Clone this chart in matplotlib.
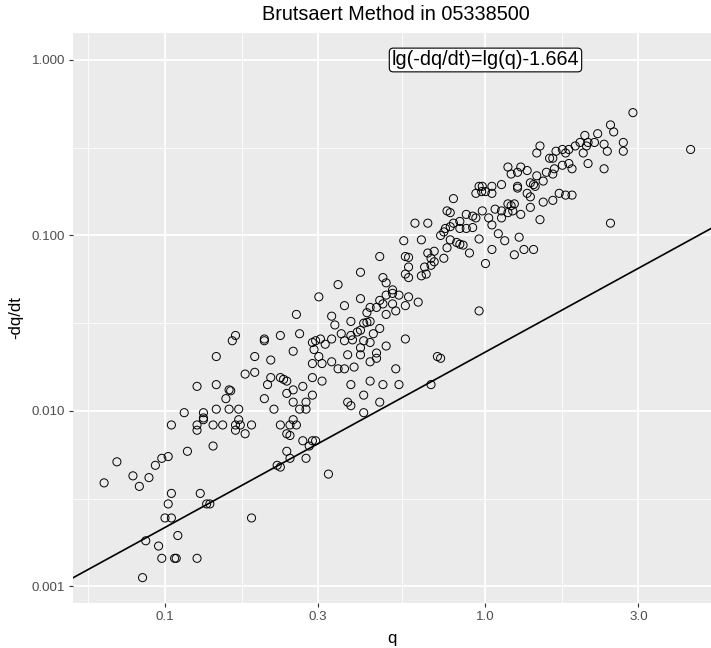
import numpy as np
import matplotlib.pyplot as plt

# recession points, stored as lg values (Brutsaert plot works in log space)
lg_q = [
    -1.19, -1.15, -1.10, -1.08, -1.05, -1.03, -1.01, -0.99, -0.93, -0.85,
    -0.98, -0.89, -0.99, -0.87, -0.86, -1.00, -0.98, -1.06, -0.96, -1.02,
    -1.01, -0.97, -0.965, -0.90, -1.07,
    -0.84, -0.90, -0.84, -0.80, -0.795, -0.81, -0.94, -0.88, -0.84, -0.80,
    -0.88, -0.88, -0.98, -0.90, -0.90, -0.85, -0.82,
    -0.78, -0.79, -0.69, -0.69, -0.72, -0.67, -0.75, -0.72, -0.67, -0.68,
    -0.69, -0.77, -0.66, -0.78, -0.78, -0.77, -0.765, -0.73, -0.75, -0.73,
    -0.65, -0.64,
    -0.46, -0.52, -0.39, -0.44, -0.59, -0.48, -0.47, -0.42, -0.37, -0.36,
    -0.34, -0.33, -0.38, -0.37, -0.36, -0.39, -0.40, -0.35, -0.64, -0.58,
    -0.515, -0.53, -0.54, -0.48, -0.50, -0.45, -0.44, -0.42, -0.415, -0.38,
    -0.36, -0.39, -0.60, -0.535, -0.52, -0.43, -0.39, -0.34, -0.34, -0.36,
    -0.54, -0.51, -0.48, -0.46, -0.44, -0.41,
    -0.64, -0.63, -0.62, -0.54, -0.51, -0.60, -0.57, -0.62, -0.54, -0.42,
    -0.36, -0.60, -0.56, -0.58, -0.56, -0.43, -0.42, -0.38, -0.33, -0.38,
    -0.64, -0.61, -0.59, -0.60, -0.62, -0.61, -0.57, -0.54, -0.53, -0.55,
    -0.62, -0.61, -0.56, -0.49,
    -0.33, -0.39, -0.32, -0.31, -0.24, -0.32, -0.31, -0.29, -0.29, -0.27,
    -0.24, -0.21, -0.25, -0.29, -0.28, -0.31, -0.33, -0.31, -0.25, -0.28,
    -0.15, -0.14, -0.32, -0.27, -0.17, -0.02,
    0.17, 0.16, 0.20, 0.21, 0.22, 0.24, 0.25, 0.26, 0.28, 0.295,
    0.24, 0.26, 0.27, 0.07, 0.08, 0.10, 0.11, 0.13, 0.16, 0.19,
    0.21, 0.215, 0.18, 0.14, 0.15, 0.155, 0.10, 0.10, -0.02, -0.01,
    0.02, 0.05, -0.03, -0.012, 0.00, 0.02, 0.13, 0.14, 0.14, 0.23,
    0.25, 0.27, 0.18, 0.21, -0.10, 0.07, 0.08, 0.09, -0.12, -0.11,
    0.03, 0.05, 0.07, 0.085, 0.11, -0.06, -0.04, -0.03, -0.01, 0.01,
    0.05, 0.17, -0.22, -0.18, -0.08, -0.10, -0.11, -0.125, -0.13, -0.08,
    -0.06, -0.04, 0.02, -0.14, 0.04, -0.255, -0.20, -0.11, -0.02, 0.06,
    0.105, -0.09, -0.08, -0.07, -0.12, 0.02, 0.12, 0.15, 0.09, -0.05,
    -0.25, -0.24, -0.18, -0.16, -0.17, -0.16, -0.17, -0.13, 0.00, -0.24,
    -0.25, -0.19, -0.20, -0.185,
    0.46, 0.39, 0.40, 0.35, 0.31, 0.32, 0.34, 0.315, 0.305,
    0.37, 0.38, 0.43, 0.43, 0.64, 0.32, 0.37, 0.39,
]
lg_dqdt = [
    -2.41, -2.29, -2.37, -2.43, -2.38, -2.31, -2.27, -2.26, -2.23, -2.20,
    -2.47, -2.47, -2.53, -2.53, -2.53, -2.61, -2.61, -2.74, -2.71, -2.77,
    -2.84, -2.84, -2.84, -2.84, -2.95,
    -1.69, -1.86, -1.85, -1.88, -1.885, -1.93, -2.01, -2.01, -1.99, -1.99,
    -2.04, -2.05, -2.08, -2.08, -2.11, -2.08, -2.08,
    -1.57, -1.60, -1.59, -1.60, -1.69, -1.71, -1.79, -1.78, -1.81, -1.85,
    -1.93, -1.99, -1.99, -2.08, -2.11, -2.05, -2.08, -2.08, -2.13, -2.61,
    -2.31, -2.32,
    -1.28, -1.35, -1.36, -1.40, -1.45, -1.46, -1.51, -1.49, -1.44, -1.41,
    -1.41, -1.37, -1.50, -1.495, -1.49, -1.54, -1.55, -1.56, -1.57, -1.56,
    -1.59, -1.60, -1.61, -1.59, -1.62, -1.56, -1.60, -1.57, -1.595, -1.60,
    -1.61, -1.64, -1.66, -1.65, -1.69, -1.68, -1.68, -1.67, -1.70, -1.72,
    -1.73, -1.73, -1.72, -1.76, -1.76, -1.75,
    -1.81, -1.82, -1.83, -1.81, -1.83, -1.88, -1.86, -1.90, -1.91, -1.85,
    -1.83, -1.95, -1.95, -1.99, -1.99, -1.95, -1.97, -1.91, -1.95, -2.01,
    -2.08, -2.08, -2.08, -2.05, -2.13, -2.14, -2.17, -2.17, -2.17, -2.20,
    -2.23, -2.27, -2.27, -2.36,
    -1.12, -1.21, -1.24, -1.27, -1.24, -1.39, -1.34, -1.33, -1.31, -1.34,
    -1.35, -1.38, -1.40, -1.39, -1.43, -1.45, -1.53, -1.63, -1.59, -1.76,
    -1.69, -1.70, -1.85, -1.85, -1.85, -1.43,
    -0.49, -0.53, -0.56, -0.56, -0.52, -0.51, -0.53, -0.51, -0.49, -0.47,
    -0.60, -0.59, -0.62, -0.61, -0.65, -0.64, -0.61, -0.63, -0.66, -0.64,
    -0.65, -0.62, -0.69, -0.70, -0.71, -0.72, -0.72, -0.73, -0.72, -0.72,
    -0.72, -0.71, -0.76, -0.75, -0.75, -0.76, -0.76, -0.78, -0.84, -0.76,
    -0.77, -0.77, -0.81, -0.80, -0.79, -0.82, -0.83, -0.82, -0.86, -0.87,
    -0.85, -0.86, -0.87, -0.86, -0.88, -0.88, -0.89, -0.90, -0.86, -0.90,
    -0.90, -0.91, -0.93, -0.93, -0.92, -0.93, -0.95, -0.96, -0.98, -0.96,
    -0.96, -0.955, -0.94, -1.00, -0.99, -1.03, -1.025, -1.025, -1.02, -1.03,
    -1.01, -1.04, -1.05, -1.055, -1.07, -1.08, -1.08, -1.08, -1.11, -1.10,
    -1.12, -1.125, -1.10, -1.09, -1.13, -1.15, -1.17, -1.13, -1.16, -1.18,
    -1.22, -1.18, -1.23, -1.22,
    -0.30, -0.37, -0.41, -0.42, -0.43, -0.47, -0.47, -0.49, -0.53,
    -0.48, -0.52, -0.47, -0.52, -0.51, -0.59, -0.62, -0.93,
]

intercept = -1.664   # lg(-dq/dt) = lg(q) + intercept
station = "05338500"

x_breaks = [0.1, 0.3, 1.0, 3.0]
x_labels = ["0.1", "0.3", "1.0", "3.0"]
y_breaks = [1.0, 0.1, 0.01, 0.001]
y_labels = ["1.000", "0.100", "0.010", "0.001"]

q = 10 ** np.array(lg_q)
dqdt = 10 ** np.array(lg_dqdt)

plt.rcParams['font.family'] = ['Liberation Sans', 'DejaVu Sans']

fig = plt.figure(figsize=(7.11, 6.48), dpi=100)
ax = fig.add_axes([73 / 711, 45 / 648, 638 / 711, 570 / 648])
ax.set_facecolor("#EBEBEB")
for s in ax.spines.values():
    s.set_visible(False)

ax.set_xscale("log")
ax.set_yscale("log")
xlim = (10 ** -1.287, 10 ** 0.7036)
ylim = (10 ** -3.0946, 10 ** 0.1538)
ax.set_xlim(xlim)
ax.set_ylim(ylim)

ax.set_xticks(x_breaks)
ax.set_xticklabels(x_labels)
ax.set_yticks(y_breaks)
ax.set_yticklabels(y_labels)
ax.set_xticks(10 ** np.array([-1.2387, -0.761, -0.2615, 0.2385]), minor=True)
ax.set_yticks(10 ** np.array([-2.5, -1.5, -0.5]), minor=True)
ax.set_xticklabels([], minor=True)
ax.set_yticklabels([], minor=True)
ax.tick_params(which="major", length=3, width=0.8, color="#333333",
               labelcolor="#4D4D4D", labelsize=9.6, pad=2.5)
ax.tick_params(which="minor", length=0)
ax.grid(which="major", color="white", linewidth=1.3)
ax.grid(which="minor", color="white", linewidth=0.6)
ax.set_axisbelow(True)

ax.scatter(q, dqdt, s=34, facecolors="none", edgecolors="black",
           linewidths=0.7, zorder=3)

xl = np.array(xlim)
ax.plot(xl, xl * 10 ** intercept, color="black", linewidth=1.2, zorder=4)

ax.text(1.0, 1.0, "lg(-dq/dt)=lg(q)%.3f" % intercept, ha="center", va="center",
        fontsize=14.2, color="black", zorder=5,
        bbox=dict(boxstyle="round,pad=0.12,rounding_size=0.2", fc="white",
                  ec="black", lw=0.8))

fig.text(396 / 711, 1 - 15 / 648, "Brutsaert Method in " + station,
         ha="center", va="center", fontsize=14.3)
fig.text(392 / 711, 1 - 638 / 648, "q", ha="center", va="center", fontsize=12)
fig.text(16 / 711, 1 - 318 / 648, "-dq/dt", ha="center", va="center",
         rotation=90, fontsize=12)

fig.savefig("out.png", dpi=100)
